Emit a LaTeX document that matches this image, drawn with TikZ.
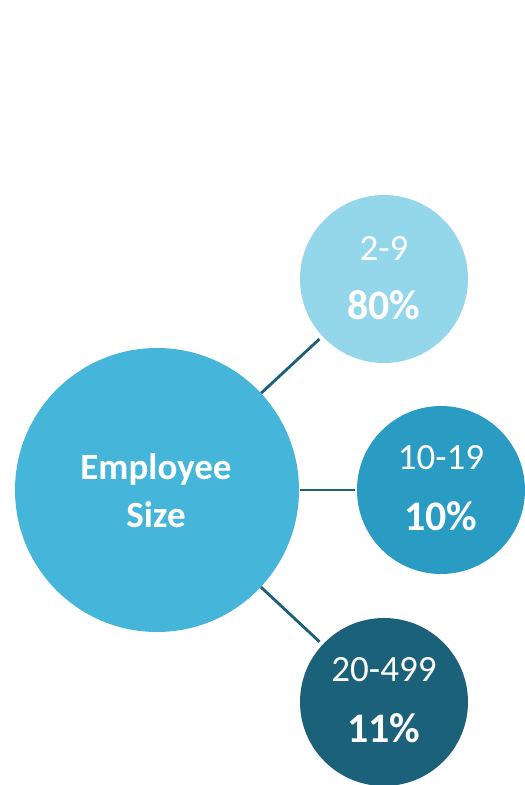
\documentclass[tikz,border=0pt]{standalone}
\usepackage{fontspec}
\setmainfont{Carlito}
\definecolor{bigc}{HTML}{45B5DA}
\definecolor{topc}{HTML}{94D6EA}
\definecolor{midc}{HTML}{2A9CC4}
\definecolor{botc}{HTML}{1B617A}
\definecolor{linec}{HTML}{1B5F78}
\begin{document}
\begin{tikzpicture}[x=1pt,y=1pt,
  bubble/.style={circle,inner sep=0pt,draw=none},
  lbl/.style={text=white,font=\fontsize{37}{37}\selectfont},
  pct/.style={text=white,font=\fontsize{42}{42}\selectfont\bfseries},
  conn/.style={draw=linec,line width=2.8pt}]
\useasboundingbox (0,0) rectangle (525,-785);
\node[bubble,fill=bigc,minimum size=284pt] (big) at (157,-490) {};
\node[bubble,fill=topc,minimum size=168pt] (top) at (384,-279) {};
\node[bubble,fill=midc,minimum size=168pt] (mid) at (441,-490) {};
\node[bubble,fill=botc,minimum size=168pt] (bot) at (384,-702) {};
\node[text=white,font=\fontsize{37}{37}\selectfont\bfseries] (emp) at (156,-469) {Employee};
\node[text=white,font=\fontsize{37}{37}\selectfont\bfseries] (size) at (156,-515) {Size};
\node[lbl] (t1) at (384,-248) {2-9};
\node[pct] (t2) at (384,-305) {80\%};
\node[lbl] (m1) at (441,-458) {10-19};
\node[pct] (m2) at (441,-516) {10\%};
\node[lbl] (b1) at (384,-670) {20-499};
\node[pct] (b2) at (384,-728) {11\%};
\draw[conn,shorten >=4pt] (big) -- (top);
\draw[conn,shorten >=2pt,shorten <=1pt] (big) -- (mid);
\draw[conn,shorten >=4pt] (big) -- (bot);
\end{tikzpicture}
\end{document}
